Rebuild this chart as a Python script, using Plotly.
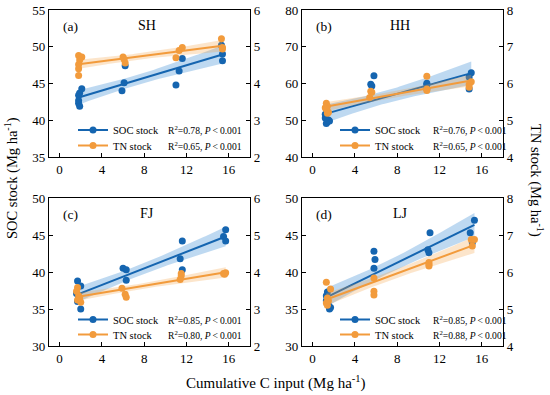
import numpy as np
import plotly.graph_objects as go

# ---------------- data ----------------
panels = ["(a)", "(b)", "(c)", "(d)"]
sites = ["SH", "HH", "FJ", "LJ"]
r2_soc = ["0.78", "0.76", "0.85", "0.85"]
r2_tn = ["0.65", "0.65", "0.80", "0.88"]

x_soc_a = [2.1, 1.9, 1.8, 1.8, 1.8, 1.9, 6.2, 6.1, 5.9, 11.0, 11.3, 11.6, 15.3, 15.4, 15.4]
soc_a = [44.3, 43.7, 43.4, 42.7, 42.3, 41.9, 47.4, 45.1, 44.0, 44.8, 46.7, 48.4, 50.2, 49.0, 48.1]
x_tn_a = [1.8, 2.1, 1.9, 1.8, 1.8, 1.8, 6.0, 6.1, 6.2, 11.0, 11.3, 11.6, 15.3, 15.4, 15.4]
tn_a = [4.76, 4.72, 4.64, 4.52, 4.40, 4.22, 4.72, 4.66, 4.56, 4.70, 4.90, 4.98, 5.22, 4.98, 4.94]

x_soc_b = [1.2, 1.5, 1.4, 1.3, 1.6, 1.2, 5.5, 5.6, 5.8, 10.8, 10.8, 10.8, 15.0, 14.8, 14.8]
soc_b = [51.6, 50.1, 49.5, 49.1, 49.8, 50.6, 59.8, 59.3, 62.1, 59.7, 60.1, 58.6, 62.9, 61.8, 58.5]
x_tn_b = [1.3, 1.4, 1.2, 1.5, 1.4, 1.3, 5.5, 5.6, 5.4, 10.8, 10.8, 10.8, 15.0, 14.8, 14.8]
tn_b = [5.46, 5.38, 5.34, 5.22, 5.19, 5.30, 5.79, 5.76, 5.62, 6.20, 5.81, 5.85, 6.05, 5.97, 5.90]

x_soc_c = [1.7, 2.0, 1.6, 1.7, 2.0, 1.8, 6.0, 6.3, 6.3, 11.6, 11.4, 11.6, 15.7, 15.5, 15.7]
soc_c = [38.8, 38.1, 37.1, 36.0, 35.0, 36.5, 40.5, 40.3, 38.9, 44.2, 41.8, 40.3, 45.7, 44.8, 44.2]
x_tn_c = [1.7, 1.6, 1.8, 1.7, 2.0, 1.9, 5.9, 6.2, 6.3, 11.5, 11.5, 11.4, 15.5, 15.7, 15.6]
tn_c = [3.58, 3.48, 3.36, 3.24, 3.18, 3.30, 3.56, 3.40, 3.32, 3.96, 3.90, 3.80, 3.96, 3.98, 3.94]

x_soc_d = [1.4, 1.3, 1.3, 1.5, 1.7, 1.6, 5.8, 5.9, 5.8, 11.1, 10.9, 11.0, 15.3, 14.9, 15.1]
soc_d = [37.3, 36.8, 36.1, 35.5, 35.2, 35.0, 42.8, 41.7, 40.5, 45.3, 43.0, 42.6, 47.0, 45.3, 44.0]
x_tn_d = [1.3, 1.7, 1.4, 1.3, 1.4, 1.5, 5.8, 5.8, 5.8, 11.0, 11.0, 11.0, 15.0, 15.3, 15.1]
tn_d = [5.72, 5.54, 5.30, 5.16, 5.10, 5.22, 5.84, 5.48, 5.38, 6.26, 6.20, 6.16, 6.88, 6.88, 6.70]

x_ticks = [0, 4, 8, 12, 16]
soc_ranges = [[35, 55], [40, 80], [30, 50], [30, 50]]
tn_ranges = [[2, 6], [4, 8], [2, 6], [4, 8]]
soc_dticks = [5, 10, 5, 5]

data = [
    (x_soc_a, soc_a, x_tn_a, tn_a),
    (x_soc_b, soc_b, x_tn_b, tn_b),
    (x_soc_c, soc_c, x_tn_c, tn_c),
    (x_soc_d, soc_d, x_tn_d, tn_d),
]

# ---------------- style ----------------
W, H = 550, 395
FONT = "Liberation Serif"
BLUE = "#1565b0"
ORANGE = "#f29b3c"
BLUE_BAND = "rgba(70,145,215,0.35)"
ORANGE_BAND = "rgba(243,160,70,0.28)"

# panel boxes in pixels (left, right, top, bottom)
boxes = [(49, 250, 10, 157), (302, 503, 10, 157), (49, 250, 198, 346), (302, 503, 198, 346)]


def px(xp):
    return xp / W


def py(yp):
    return 1 - yp / H


def fit_band(x, y):
    x = np.asarray(x, float)
    y = np.asarray(y, float)
    n = len(x)
    b, a = np.polyfit(x, y, 1)
    res = y - (a + b * x)
    s = np.sqrt(np.sum(res ** 2) / (n - 2))
    xm = x.mean()
    sxx = np.sum((x - xm) ** 2)
    xs = np.linspace(x.min(), x.max(), 60)
    yh = a + b * xs
    tval = 2.160  # t(0.975, df=13)
    se = s * np.sqrt(1.0 / n + (xs - xm) ** 2 / sxx)
    return xs, yh, yh - tval * se, yh + tval * se


fig = go.Figure()
layout = dict(
    template="none",
    width=W, height=H, margin=dict(l=0, r=0, t=0, b=0, pad=0, autoexpand=False),
    paper_bgcolor="white", plot_bgcolor="white",
    font=dict(family=FONT, size=13, color="black"),
    showlegend=True,
)
annotations = []

legend_rows = [(130, 145.5), (130, 145.5), (319.5, 334.5), (319.5, 334.5)]
legend_text_x = [113, 375, 113, 375]
r2_x = [166, 431, 166, 431]
TS = "\u2009"

for i in range(4):
    k = i + 1
    L, R, T, B = boxes[i]
    xa = "x" if k == 1 else f"x{k}"
    ya = "y" if k == 1 else f"y{k}"
    ya2 = f"y{k + 4}"
    axis_common = dict(showgrid=False, zeroline=False, showline=True, linecolor="black",
                       linewidth=1.3, ticks="inside", ticklen=4, tickwidth=1.3,
                       tickcolor="black", automargin=False,
                       tickfont=dict(size=13, family=FONT, color="black"))
    layout["xaxis" if k == 1 else f"xaxis{k}"] = dict(
        domain=[px(L), px(R)], range=[-1, 18], tickvals=x_ticks, mirror=True,
        anchor=ya, **axis_common)
    layout["yaxis" if k == 1 else f"yaxis{k}"] = dict(
        domain=[py(B), py(T)], range=soc_ranges[i], dtick=soc_dticks[i], anchor=xa,
        **axis_common)
    layout[f"yaxis{k + 4}"] = dict(
        range=tn_ranges[i], dtick=1, overlaying=ya, side="right", anchor=xa,
        **axis_common)

    xs_soc, ys_soc, xs_tn, ys_tn = data[i]
    # SOC
    gx, gy, lo, hi = fit_band(xs_soc, ys_soc)
    fig.add_trace(go.Scatter(x=np.concatenate([gx, gx[::-1]]), y=np.concatenate([hi, lo[::-1]]),
                             fill="toself", fillcolor=BLUE_BAND, line=dict(width=0),
                             mode="lines", hoverinfo="skip", showlegend=False, xaxis=xa, yaxis=ya))
    fig.add_trace(go.Scatter(x=gx, y=gy, mode="lines", line=dict(color=BLUE, width=2),
                             showlegend=False, xaxis=xa, yaxis=ya))
    fig.add_trace(go.Scatter(x=xs_soc, y=ys_soc, mode="markers",
                             marker=dict(color=BLUE, size=7), showlegend=False, xaxis=xa, yaxis=ya))
    # TN
    gx, gy, lo, hi = fit_band(xs_tn, ys_tn)
    fig.add_trace(go.Scatter(x=np.concatenate([gx, gx[::-1]]), y=np.concatenate([hi, lo[::-1]]),
                             fill="toself", fillcolor=ORANGE_BAND, line=dict(width=0),
                             mode="lines", hoverinfo="skip", showlegend=False, xaxis=xa, yaxis=ya2))
    fig.add_trace(go.Scatter(x=gx, y=gy, mode="lines", line=dict(color=ORANGE, width=2),
                             showlegend=False, xaxis=xa, yaxis=ya2))
    fig.add_trace(go.Scatter(x=xs_tn, y=ys_tn, mode="markers",
                             marker=dict(color=ORANGE, size=7), showlegend=False, xaxis=xa, yaxis=ya2))

    # legend proxies, one legend per row
    for j, (nm, col, r2) in enumerate([("SOC stock", BLUE, r2_soc[i]), ("TN stock", ORANGE, r2_tn[i])]):
        lg_idx = 2 * i + j + 1
        lg = "legend" if lg_idx == 1 else f"legend{lg_idx}"
        fig.add_trace(go.Scatter(x=[None], y=[None], mode="lines+markers", name=nm,
                                 line=dict(color=col, width=2), marker=dict(color=col, size=7),
                                 legend=lg, showlegend=True, xaxis=xa, yaxis=ya))
        layout[lg] = dict(x=px(legend_text_x[i] - 40), y=py(legend_rows[i][j]), xanchor="left",
                          yanchor="middle", bgcolor="rgba(0,0,0,0)", borderwidth=0,
                          font=dict(size=10.5, family=FONT, color="black"), itemwidth=30,
                          tracegroupgap=0)
        annotations.append(dict(xref="paper", yref="paper", x=px(r2_x[i]), y=py(legend_rows[i][j]),
                                xanchor="left", yanchor="middle", showarrow=False,
                                text=f"R<sup>2</sup>={r2}, <i>P</i>{TS}&lt;{TS}0.001",
                                font=dict(size=9.6, family=FONT, color="black")))

    # panel label and site name
    annotations.append(dict(xref="paper", yref="paper", x=px(L + 12), y=py(T + 16),
                            xanchor="left", yanchor="middle", showarrow=False,
                            text=panels[i], font=dict(size=13.5, family=FONT, color="black")))
    annotations.append(dict(xref="paper", yref="paper", x=px(L + 98), y=py(T + 15),
                            xanchor="center", yanchor="middle", showarrow=False,
                            text=sites[i], font=dict(size=14, family=FONT, color="black")))

# axis titles
annotations.append(dict(xref="paper", yref="paper", x=px(12), y=py(178), textangle=-90,
                        xanchor="center", yanchor="middle", showarrow=False,
                        text="SOC stock (Mg ha<sup>-1</sup>)", font=dict(size=14.5, family=FONT)))
annotations.append(dict(xref="paper", yref="paper", x=px(537), y=py(180), textangle=90,
                        xanchor="center", yanchor="middle", showarrow=False,
                        text="TN stock (Mg ha<sup>-1</sup>)", font=dict(size=14.5, family=FONT)))
annotations.append(dict(xref="paper", yref="paper", x=px(276), y=py(382),
                        xanchor="center", yanchor="middle", showarrow=False,
                        text="Cumulative C input (Mg ha<sup>-1</sup>)", font=dict(size=15, family=FONT)))

layout["annotations"] = annotations
fig.update_layout(**layout)
fig.write_html("out.html", config={"displayModeBar": False},
               post_script="document.body.style.margin='0px';document.body.style.overflow='hidden';")
